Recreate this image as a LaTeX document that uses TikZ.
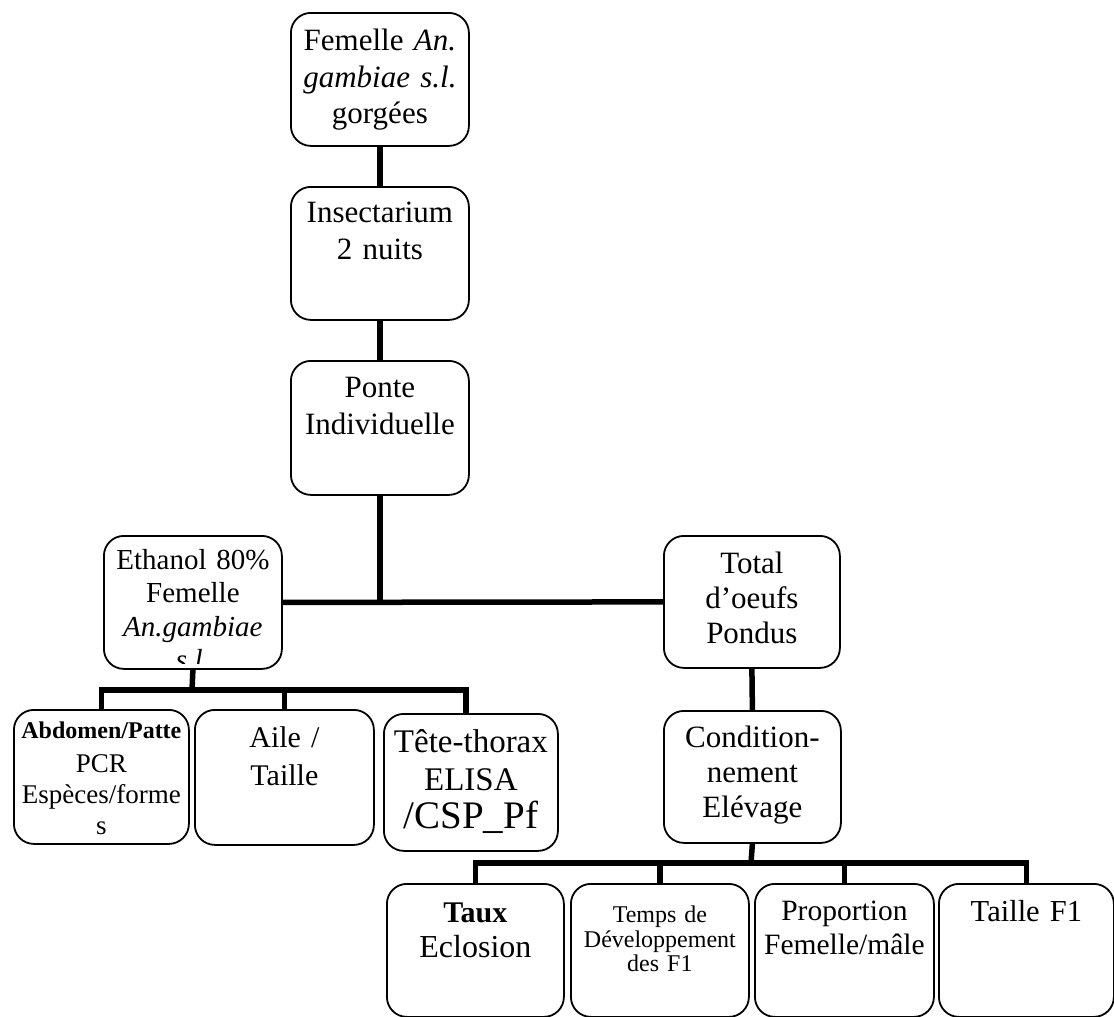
\documentclass[tikz,border=0pt]{standalone}
\usepackage{fontspec}
\setmainfont{Liberation Serif}
\newcommand{\fsz}[2]{\fontsize{#1}{#2}\selectfont}
\tikzset{
  boite/.style={draw, rounded corners=20pt, line width=1.8pt, inner sep=0pt,
    anchor=north west, align=center},
  texte/.style={anchor=north, inner sep=0pt, align=center},
  lien/.style={line width=5.5pt},
}
\begin{document}
\begin{tikzpicture}[x=1pt,y=-1pt]
  \useasboundingbox (0,0) rectangle (1114,1017);
  % colonne centrale
  \node[boite, minimum width=178pt, minimum height=133pt, text width=170pt,
    text height=38pt, text depth=95pt, font=\fsz{31}{36.5}] (fem) at (290,12)
    {Femelle \textit{An.}\\\textit{gambiae s.l.}\\gorgées};
  \node[boite, minimum width=178pt, minimum height=133pt, text width=170pt,
    text height=36pt, text depth=97pt, font=\fsz{31}{36.5}] (ins) at (290,186)
    {Insectarium\\2 nuits};
  \node[boite, minimum width=178pt, minimum height=134pt, text width=170pt,
    text height=37pt, text depth=97pt, font=\fsz{31}{36.5}] (ponte) at (290,360)
    {Ponte\\Individuelle};
  % branche gauche
  \node[boite, minimum width=178pt, minimum height=133pt] (eth) at (103,535) {};
  \begin{scope}
    \clip (103,535) rectangle (281,663);
    \node[texte, text width=170pt, text height=34pt, font=\fsz{29}{33.5}] (ethT)
      at (eth.north) {Ethanol 80\%\\Femelle\\\textit{An.gambiae}\\\textit{s.l.}};
  \end{scope}
  \node[boite, minimum width=175pt, minimum height=134pt, text width=171pt,
    text height=29pt, text depth=105pt, font=\fsz{27}{31}] (abd) at (13,709)
    {{\fsz{24}{31}\bfseries Abdomen/Patte}\\[3pt]PCR\\Espèces/forme\\s};
  \node[boite, minimum width=179pt, minimum height=135pt, text width=171pt,
    text height=38pt, text depth=97pt, font=\fsz{30}{38}] (aile) at (194,709)
    {Aile /\\Taille};
  \node[boite, minimum width=174pt, minimum height=137pt, text width=170pt,
    text height=39pt, text depth=98pt, font=\fsz{33}{38}] (tete) at (383,713)
    {Tête-thorax\\ELISA\\{\fsz{39}{38}/CSP\_Pf}};
  % branche droite
  \node[boite, minimum width=176pt, minimum height=132pt, text width=170pt,
    text height=38pt, text depth=94pt, font=\fsz{31}{35}] (tot) at (663,535)
    {Total\\d’oeufs\\Pondus};
  \node[boite, minimum width=177pt, minimum height=132pt, text width=170pt,
    text height=37pt, text depth=95pt, font=\fsz{31}{35}] (cond) at (663,710)
    {Condition-\\nement\\Elévage};
  \node[boite, minimum width=177pt, minimum height=133pt, text width=170pt,
    text height=39pt, text depth=94pt, font=\fsz{32}{35}] (taux) at (386,883)
    {{\fsz{30}{35}\bfseries Taux}\\Eclosion};
  \node[boite, minimum width=178pt, minimum height=133pt, text width=172pt,
    text height=39pt, text depth=94pt, font=\fsz{24}{24.5}] (temps) at (570,883)
    {Temps de\\Développement\\des F1};
  \node[boite, minimum width=179pt, minimum height=133pt, text width=173pt,
    text height=37pt, text depth=96pt, font=\fsz{29.5}{34}] (prop) at (754,883)
    {Proportion\\Femelle/mâle};
  \node[boite, minimum width=175pt, minimum height=133pt, text width=170pt,
    text height=38pt, text depth=95pt, font=\fsz{30.5}{36}] (tf) at (938,883)
    {Taille F1};
  % liens
  \coordinate (brancheG) at (192,690);
  \coordinate (brancheD) at (751,863);
  \draw[lien] (fem.south) -- (ins.north);
  \draw[lien] (ins.south) -- (ponte.north);
  \draw[lien] (ponte.south) -- (ponte.south |- eth.east);
  \draw[lien] (eth.east) -- (tot.west);
  \draw[lien] (eth.south) -- (brancheG);
  \draw[lien] (abd.north) |- (brancheG);
  \draw[lien] (aile.north) |- (brancheG);
  \draw[lien] ([xshift=-5pt]tete.north) |- (brancheG);
  \draw[lien] (tot.south) -- (cond.north);
  \draw[lien] (cond.south) -- (brancheD);
  \draw[lien] (taux.north) |- (brancheD);
  \draw[lien] (temps.north) |- (brancheD);
  \draw[lien] (prop.north) |- (brancheD);
  \draw[lien] (tf.north) |- (brancheD);
\end{tikzpicture}
\end{document}
